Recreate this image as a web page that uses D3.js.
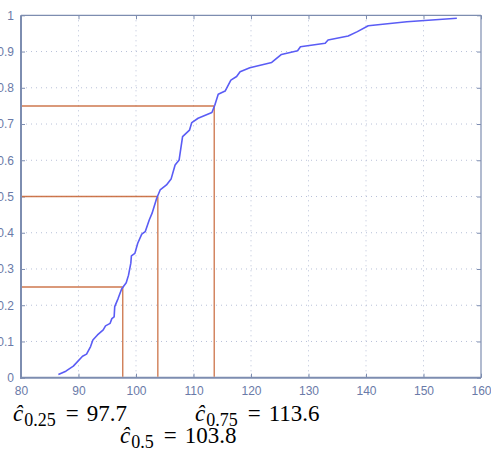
<!DOCTYPE html>
<html><head><meta charset="utf-8">
<script src="https://cdn.jsdelivr.net/npm/d3@7"></script>
<style>body{margin:0;background:#fff}svg{display:block}</style>
</head><body>
<script>
const cdfX = [86.5,87.8,89.1,90.7,91.4,92.1,92.5,93.3,94.3,94.7,95.5,95.8,96.2,96.3,96.9,97.5,98.3,98.7,99.1,99.2,99.8,100.3,101.0,101.6,102.3,102.8,103.6,104.2,105.3,106.1,106.8,107.5,108.1,109.3,109.7,110.8,113.2,113.7,114.3,115.5,116.5,117.5,118.1,119.8,123.6,125.3,128.1,128.6,132.9,133.4,136.9,138.5,140.4,147.1,155.8];
const cdfP = [0.009,0.018,0.032,0.059,0.065,0.086,0.104,0.118,0.132,0.143,0.150,0.163,0.168,0.196,0.219,0.245,0.262,0.283,0.316,0.336,0.343,0.371,0.396,0.403,0.435,0.454,0.495,0.518,0.532,0.548,0.587,0.601,0.665,0.683,0.704,0.716,0.732,0.752,0.782,0.791,0.821,0.831,0.844,0.855,0.870,0.892,0.902,0.913,0.923,0.932,0.943,0.955,0.971,0.982,0.992];
const quantP = [0.25,0.5,0.75];
const quantX = [97.7,103.8,113.6];
const quantLabels = ["0.25","0.5","0.75"];
const quantValueText = ["97.7","103.8","113.6"];
const xTicks = [80,90,100,110,120,130,140,150,160];
const yTicks = [0,0.1,0.2,0.3,0.4,0.5,0.6,0.7,0.8,0.9,1];

const W=491,H=450;
const L=21,R=481,T=15.3,B=377.7;
const svg=d3.select("body").append("svg").attr("width",W).attr("height",H);
const x=d3.scaleLinear().domain([80,160]).range([L,R]);
const y=d3.scaleLinear().domain([0,1]).range([B,T]);
const axisCol="#7d8db0", labCol="#6a7aa8", gridCol="#b8c0d8";

// grid
svg.append("g").selectAll("line").data(xTicks.slice(1,-1)).join("line")
  .attr("x1",d=>x(d)).attr("x2",d=>x(d)).attr("y1",T).attr("y2",B)
  .attr("stroke",gridCol).attr("stroke-dasharray","1,4");
svg.append("g").selectAll("line").data(yTicks.slice(1,-1)).join("line")
  .attr("y1",d=>y(d)).attr("y2",d=>y(d)).attr("x1",L).attr("x2",R)
  .attr("stroke",gridCol).attr("stroke-dasharray","1,4");

// axes via d3 axis
const xa=svg.append("g").attr("transform",`translate(0,${B})`)
  .call(d3.axisBottom(x).tickValues(xTicks).tickSizeInner(-4).tickSizeOuter(0).tickPadding(9).tickFormat(d3.format("d")));
const xt=svg.append("g").attr("transform",`translate(0,${T})`)
  .call(d3.axisTop(x).tickValues(xTicks).tickSizeInner(-4).tickSizeOuter(0).tickFormat(""));
const ya=svg.append("g").attr("transform",`translate(${L},0)`)
  .call(d3.axisLeft(y).tickValues(yTicks).tickSizeInner(-4).tickSizeOuter(0).tickPadding(7).tickFormat(d=>d===0?"0":d===1?"1":d3.format(".1f")(d)));
const yr=svg.append("g").attr("transform",`translate(${R},0)`)
  .call(d3.axisRight(y).tickValues(yTicks).tickSizeInner(-4).tickSizeOuter(0).tickFormat(""));
[xa,xt,ya,yr].forEach(g=>{
  g.select(".domain").remove();
  g.selectAll("line").attr("stroke",axisCol);
  g.selectAll("text").attr("fill",labCol).style("font-family","Liberation Sans, Arial, sans-serif").style("font-size","12px");
});

// frame
svg.append("line").attr("x1",L).attr("x2",R).attr("y1",T).attr("y2",T).attr("stroke",axisCol).attr("stroke-width",1.2);
svg.append("line").attr("x1",R).attr("x2",R).attr("y1",T).attr("y2",B).attr("stroke",axisCol).attr("stroke-width",1.2);
svg.append("line").attr("x1",L).attr("x2",L).attr("y1",T).attr("y2",B+1).attr("stroke",axisCol).attr("stroke-width",2);
svg.append("line").attr("x1",L-1).attr("x2",R).attr("y1",B).attr("y2",B).attr("stroke",axisCol).attr("stroke-width",2);

// quantile guides
const qc="#c8683a";
const q=svg.append("g");
quantP.forEach((p,i)=>{
  q.append("line").attr("x1",x(80)+1).attr("x2",x(quantX[i])).attr("y1",y(p)).attr("y2",y(p)).attr("stroke",qc).attr("stroke-width",1.5).attr("stroke-opacity",0.9);
  q.append("line").attr("x1",x(quantX[i])).attr("x2",x(quantX[i])).attr("y1",y(p)).attr("y2",y(0)-1).attr("stroke",qc).attr("stroke-width",1.2);
});

// cdf
const pts=cdfX.map((v,i)=>[v,cdfP[i]]);
svg.append("path").datum(pts)
  .attr("d",d3.line().x(d=>x(d[0])).y(d=>y(d[1])))
  .attr("fill","none").attr("stroke","#5a5cf5").attr("stroke-width",1.6).attr("stroke-linejoin","round");

// annotations
const pos=[[13,421],[120,443],[195,421]];
quantLabels.forEach((lab,i)=>{
  const t=svg.append("text").attr("x",pos[i][0]).attr("y",pos[i][1])
    .style("font-family","Liberation Serif, DejaVu Serif, serif").style("font-size","23px").attr("fill","#000");
  t.append("tspan").style("font-style","italic").text("ĉ");
  t.append("tspan").attr("dx",1).attr("dy",5).style("font-size","18px").text(lab);
  t.append("tspan").attr("dx",10).attr("dy",-5).text("=");
  t.append("tspan").attr("dx",8).text(quantValueText[i]);
});
</script>
</body></html>
